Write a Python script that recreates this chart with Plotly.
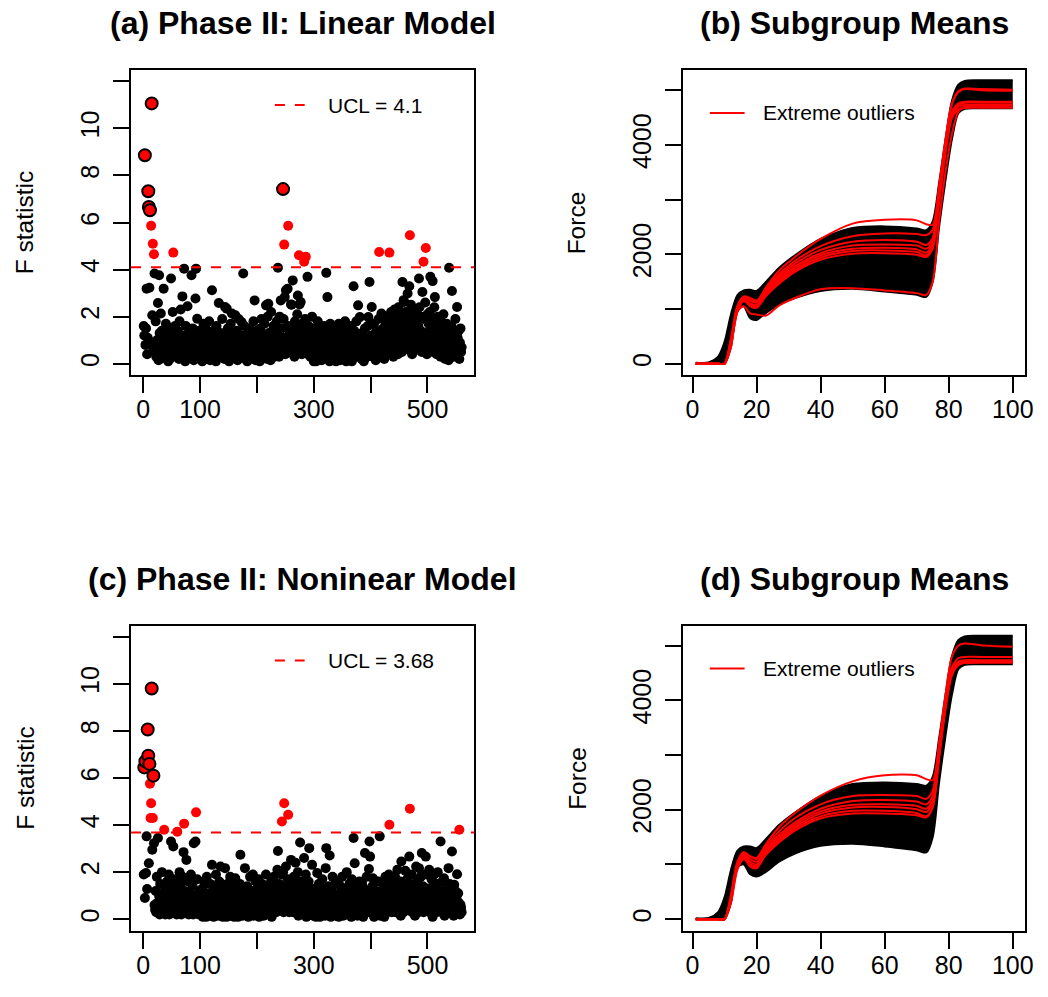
import plotly.graph_objects as go

W, H = 1048, 997

# ---------------------------------------------------------------- data
# Phase II F statistics, linear model, subgroups 1..560
f_linear = [
    1.6, 1.2, 8.86, 0.8, 1.5, 3.19, 0.4, 1.1, 7.33, 6.66, 3.23, 6.52, 0.9, 5.86, 11.06, 2.06, 5.1, 0.6, 4.65, 3.83,
    0.5, 1.8, 0.3, 1.0, 0.7, 2.58, 0.15, 3.76, 1.3, 0.2, 2.13, 0.9, 1.4, 0.5, 0.3, 3.19, 1.1, 0.6, 0.8, 1.7,
    0.4, 1.2, 0.9, 0.1, 1.5, 0.7, 0.2, 1.0, 3.62, 0.6, 1.3, 2.2, 4.72, 0.5, 0.8, 1.6, 0.3, 1.1, 0.4, 0.9,
    1.4, 0.6, 0.2, 1.8, 0.7, 2.3, 0.5, 1.0, 2.86, 0.3, 1.2, 4.04, 0.8, 0.1, 1.6, 0.6, 0.2, 2.44, 0.9, 1.3,
    0.5, 0.3, 1.1, 0.7, 3.76, 0.4, 1.5, 0.9, 0.15, 0.6, 1.2, 2.77, 4.04, 0.8, 1.91, 0.3, 1.0, 0.5, 1.4, 0.7,
    0.4, 1.3, 0.8, 0.1, 0.6, 1.7, 0.3, 1.0, 0.5, 1.5, 0.9, 0.2, 1.2, 0.7, 0.4, 1.8, 0.6, 0.15, 1.1, 0.8,
    3.12, 0.5, 0.9, 1.4, 0.3, 0.7, 1.0, 0.1, 1.6, 0.6, 0.4, 1.1, 2.58, 0.8, 0.3, 1.3, 0.5, 0.9, 1.9, 0.4,
    0.7, 1.2, 0.2, 2.41, 0.6, 1.0, 2.34, 0.4, 1.5, 0.8, 0.1, 1.1, 0.5, 1.7, 0.9, 2.13, 0.3, 1.3, 0.6, 0.4,
    1.0, 2.06, 0.5, 0.8, 1.4, 0.15, 0.7, 1.9, 0.4, 1.1, 0.6, 0.3, 1.77, 0.9, 1.2, 3.83, 0.5, 1.6, 0.8, 0.2,
    0.6, 1.0, 0.1, 1.3, 0.5, 0.8, 1.5, 0.3, 0.9, 0.4, 1.2, 0.7, 0.2, 1.8, 0.5, 2.69, 1.0, 0.15, 0.6, 1.4,
    0.8, 0.4, 1.1, 0.6, 0.1, 1.5, 0.9, 1.9, 0.3, 0.7, 1.2, 0.5, 1.7, 0.4, 1.0, 2.48, 0.6, 0.2, 2.0, 2.55,
    1.3, 0.5, 0.9, 0.15, 2.2, 0.7, 1.1, 0.4, 1.6, 0.8, 0.3, 1.4, 0.6, 1.0, 1.8, 0.5, 4.08, 0.9, 0.3, 2.0,
    1.2, 2.69, 0.6, 1.5, 0.8, 7.42, 1.9, 5.06, 2.83, 0.4, 3.12, 1.1, 0.7, 3.19, 5.86, 1.6, 0.5, 1.3, 0.9, 2.52,
    2.51, 1.0, 3.54, 0.6, 1.4, 0.3, 1.8, 0.8, 1.2, 0.5, 2.1, 2.9, 1.5, 4.61, 2.52, 0.7, 2.62, 1.1, 0.4, 1.7,
    0.9, 1.3, 4.33, 0.5, 1.9, 4.54, 0.8, 1.2, 3.69, 0.4, 1.6, 0.6, 1.0, 0.3, 1.4, 0.7, 2.0, 0.5, 1.1, 0.1,
    0.8, 0.4, 1.5, 0.1, 1.0, 0.6, 1.8, 0.3, 0.9, 1.2, 0.5, 0.7, 1.4, 0.15, 1.1, 0.6, 0.4, 1.6, 0.8, 0.3,
    1.0, 3.86, 0.5, 2.83, 0.3, 1.3, 0.7, 0.1, 1.7, 0.6, 0.9, 0.4, 1.2, 0.2, 1.5, 0.8, 0.5, 1.1, 0.1, 0.7,
    1.4, 0.6, 0.3, 1.7, 0.9, 0.15, 1.1, 0.5, 0.8, 1.5, 0.3, 0.7, 1.0, 0.4, 1.8, 0.6, 0.1, 1.2, 0.5, 0.9,
    0.3, 1.3, 0.7, 0.4, 1.6, 0.8, 0.1, 1.0, 0.5, 3.29, 1.4, 0.6, 0.9, 0.3, 1.8, 0.7, 1.2, 2.48, 0.4, 1.0,
    1.98, 0.5, 0.9, 0.2, 1.3, 0.6, 1.1, 0.1, 0.8, 1.5, 0.4, 0.7, 1.0, 0.3, 1.6, 1.98, 0.5, 3.47, 0.9, 0.4,
    1.2, 2.41, 0.6, 0.3, 1.0, 1.7, 0.5, 0.8, 0.15, 1.4, 0.7, 1.1, 0.4, 1.9, 4.75, 0.6, 0.3, 1.2, 2.13, 0.8,
    0.5, 1.5, 0.9, 0.2, 1.1, 1.8, 0.6, 1.3, 2.0, 0.4, 0.8, 1.6, 4.72, 1.0, 0.5, 2.2, 1.4, 0.7, 1.9, 0.3,
    1.2, 2.3, 0.6, 1.5, 2.0, 0.9, 1.7, 0.4, 2.4, 1.1, 1.8, 0.7, 2.1, 1.3, 0.5, 3.47, 1.6, 2.7, 2.62, 1.0,
    1.4, 2.2, 0.8, 1.9, 2.98, 1.2, 0.6, 3.29, 5.46, 1.7, 2.5, 1.0, 0.4, 2.0, 1.5, 0.9, 2.3, 1.3, 0.7, 1.8,
    2.27, 1.1, 0.6, 1.6, 3.62, 2.4, 0.9, 1.4, 2.0, 0.5, 3.05, 1.2, 4.33, 1.9, 0.8, 2.6, 4.92, 1.3, 0.4, 2.1,
    1.0, 1.7, 0.6, 2.2, 3.69, 1.4, 0.8, 1.9, 3.51, 0.5, 1.2, 2.4, 2.83, 0.9, 1.6, 0.4, 1.1, 2.0, 0.7, 1.3,
    0.6, 1.5, 0.3, 1.8, 0.9, 0.4, 1.2, 2.1, 0.6, 1.0, 0.2, 1.4, 0.8, 1.7, 0.5, 1.1, 0.15, 4.08, 0.9, 1.3,
    0.4, 1.6, 3.09, 0.7, 1.0, 0.3, 1.2, 0.5, 1.9, 0.8, 0.4, 2.41, 1.1, 0.6, 1.4, 0.2, 0.9, 1.5, 0.5, 0.7,
]
ucl_linear = 4.1
extreme_linear = [3, 9, 10, 12, 15, 246]

# Phase II F statistics, nonlinear model, subgroups 1..560
f_nonlinear = [
    1.9, 6.45, 0.9, 6.71, 1.96, 3.52, 1.28, 8.06, 6.95, 2.38, 6.6, 5.76, 4.3, 4.93, 9.8, 2.95, 4.3, 6.1, 3.23, 0.6,
    0.4, 1.2, 0.3, 1.8, 0.7, 3.45, 0.5, 1.0, 0.2, 1.5, 0.8, 0.3, 2.0, 0.6, 1.1, 0.4, 3.8, 0.9, 0.2, 1.3,
    0.5, 1.6, 0.3, 0.8, 1.9, 0.2, 1.1, 0.6, 3.3, 0.4, 1.4, 0.9, 3.09, 0.3, 0.7, 1.7, 0.5, 1.0, 0.2, 3.72,
    0.8, 1.3, 0.4, 2.0, 0.6, 1.5, 0.2, 0.9, 1.8, 0.5, 2.85, 4.06, 1.2, 0.3, 0.7, 2.52, 1.0, 0.4, 1.6, 0.2,
    0.6, 1.1, 0.3, 1.9, 0.8, 0.4, 1.4, 0.2, 3.23, 0.7, 1.0, 3.3, 4.54, 0.5, 1.7, 0.3, 0.9, 0.2, 1.2, 0.6,
    0.2, 0.9, 0.4, 1.3, 0.1, 0.7, 1.6, 0.3, 0.5, 1.0, 0.1, 1.8, 0.6, 0.3, 1.1, 0.4, 0.8, 1.5, 0.15, 0.6,
    2.31, 0.5, 1.0, 0.1, 1.4, 0.7, 0.3, 1.9, 0.9, 0.4, 1.2, 0.15, 0.6, 1.6, 0.3, 2.24, 0.8, 1.1, 0.4, 0.1,
    0.7, 1.3, 0.3, 2.17, 0.5, 0.9, 0.1, 1.5, 0.6, 0.3, 1.0, 0.4, 1.8, 0.15, 0.8, 1.2, 0.3, 0.6, 1.4, 0.1,
    0.5, 1.74, 0.9, 0.3, 1.2, 0.6, 0.1, 1.0, 0.4, 1.5, 2.74, 0.7, 0.3, 1.1, 0.15, 0.8, 1.3, 0.5, 2.17, 0.4,
    0.9, 0.3, 1.4, 0.6, 0.1, 1.0, 0.4, 1.8, 0.7, 0.3, 1.2, 0.5, 1.9, 0.15, 0.8, 1.1, 0.4, 1.6, 0.6, 0.3,
    1.3, 0.5, 1.7, 0.1, 0.8, 1.1, 0.4, 0.6, 1.5, 0.3, 0.9, 0.15, 1.2, 0.5, 0.7, 1.9, 0.3, 1.0, 0.4, 0.6,
    0.8, 1.4, 0.3, 0.6, 1.6, 0.1, 1.1, 0.5, 0.9, 1.8, 0.4, 0.7, 1.3, 0.3, 1.0, 2.1, 2.9, 0.6, 1.5, 0.4,
    1.2, 0.5, 1.9, 4.15, 0.8, 2.0, 0.3, 4.93, 1.0, 0.6, 2.24, 1.4, 0.4, 1.7, 4.44, 0.9, 0.3, 1.2, 0.7, 2.52,
    0.5, 1.5, 0.9, 0.3, 1.8, 0.6, 1.1, 2.4, 0.4, 1.3, 0.7, 2.0, 0.15, 1.0, 0.5, 3.26, 1.6, 0.8, 0.3, 1.2,
    0.6, 1.4, 2.6, 0.4, 0.9, 1.9, 0.1, 1.1, 0.7, 0.3, 1.6, 3.02, 0.5, 1.0, 0.3, 1.3, 2.31, 0.6, 0.15, 0.9,
    0.4, 1.2, 0.7, 0.1, 1.0, 1.96, 0.5, 0.3, 1.5, 0.8, 0.1, 1.1, 0.4, 0.6, 1.7, 0.3, 0.9, 0.5, 1.3, 0.15,
    2.17, 3.02, 0.6, 1.0, 0.3, 1.4, 0.5, 2.71, 0.8, 0.1, 1.2, 0.4, 1.8, 0.7, 0.3, 1.0, 0.5, 1.5, 0.15, 0.9,
    0.4, 1.6, 0.7, 0.1, 1.1, 0.5, 1.4, 0.3, 0.9, 1.8, 0.6, 0.15, 1.0, 0.4, 1.3, 0.7, 0.3, 2.0, 0.5, 1.2,
    0.8, 0.3, 1.5, 0.6, 1.0, 0.1, 1.7, 0.4, 0.9, 3.45, 0.5, 2.38, 1.2, 0.3, 0.7, 1.4, 0.15, 1.0, 0.6, 1.6,
    0.4, 1.1, 0.7, 0.3, 1.5, 0.9, 0.1, 1.3, 0.5, 2.81, 1.0, 0.4, 1.8, 0.6, 0.3, 1.2, 2.13, 3.3, 2.66, 0.5,
    0.9, 0.3, 1.4, 1.74, 0.6, 0.1, 1.0, 0.5, 1.2, 1.13, 0.4, 0.8, 0.3, 1.6, 0.7, 3.52, 0.15, 1.1, 0.5, 0.9,
    0.4, 1.3, 0.7, 0.1, 1.0, 1.8, 0.5, 0.9, 0.3, 1.5, 0.6, 1.9, 4.01, 0.4, 1.2, 0.8, 0.3, 1.6, 0.5, 1.0,
    1.4, 0.6, 1.8, 0.3, 1.1, 0.7, 2.1, 0.4, 1.3, 0.9, 0.5, 1.6, 0.15, 2.45, 1.0, 0.6, 1.5, 0.3, 1.2, 0.8,
    2.06, 1.3, 0.5, 1.7, 0.9, 1.2, 0.4, 2.66, 4.69, 1.5, 0.7, 1.9, 0.3, 1.1, 0.6, 1.4, 0.8, 0.15, 1.0, 2.24,
    0.5, 1.6, 0.9, 0.3, 2.17, 1.2, 0.6, 1.8, 0.4, 2.81, 1.0, 1.4, 0.3, 0.7, 1.9, 0.5, 2.66, 1.1, 0.8, 0.4,
    1.3, 0.6, 2.1, 0.3, 1.0, 0.5, 1.7, 0.8, 0.1, 1.4, 0.9, 1.9, 0.4, 1.1, 0.6, 0.3, 1.5, 2.0, 0.7, 0.5,
    1.2, 0.4, 3.3, 0.8, 0.3, 1.6, 0.6, 1.0, 1.74, 0.15, 0.9, 0.5, 1.3, 0.3, 0.7, 1.1, 2.17, 0.4, 1.5, 0.6,
    0.3, 1.0, 2.88, 0.5, 0.8, 0.15, 1.46, 0.6, 1.2, 0.3, 0.9, 1.91, 0.4, 1.1, 0.7, 3.8, 0.2, 0.61, 0.5, 0.3,
]
ucl_nonlinear = 3.68
extreme_nonlinear = [2, 4, 8, 9, 11, 15, 18]

# Subgroup mean force profiles, sampled at these positions
grid = [1, 5, 8, 10, 12, 14, 16, 18, 20, 23, 27, 32, 40, 50, 60, 70, 73, 75, 77, 79, 81, 83, 85, 90, 100]

# (b) envelope of the in-control subgroup means
band_upper_b = [15, 20, 130, 400, 900, 1250, 1340, 1350, 1330, 1500, 1750, 1980, 2280, 2480, 2510, 2470, 2440, 2600, 3300, 4100, 4800, 5100, 5170, 5180, 5180]
band_lower_b = [0, 0, 0, 0, 300, 1000, 1050, 830, 800, 930, 1080, 1200, 1330, 1370, 1320, 1260, 1220, 1500, 2500, 3350, 4100, 4580, 4660, 4670, 4670]
# (b) extreme outlier profiles
outliers_b = [
    [0, 0, 0, 0, 400, 1000, 1200, 1150, 1120, 1400, 1700, 1950, 2280, 2560, 2630, 2620, 2550, 2540, 3200, 4000, 4500, 4640, 4680, 4690, 4690],
    [0, 0, 0, 0, 450, 1050, 1220, 1180, 1150, 1380, 1640, 1880, 2150, 2330, 2380, 2370, 2350, 2450, 3250, 4100, 4750, 4960, 5020, 5000, 4990],
    [0, 0, 0, 0, 450, 1050, 1230, 1200, 1150, 1350, 1600, 1830, 2080, 2230, 2260, 2230, 2170, 2300, 3150, 4050, 4750, 4980, 5030, 5020, 5010],
    [0, 0, 0, 0, 400, 1000, 1200, 1150, 1120, 1320, 1560, 1780, 2020, 2160, 2180, 2160, 2100, 2250, 3100, 4000, 4600, 4760, 4790, 4790, 4790],
    [0, 0, 0, 0, 400, 1000, 1180, 1100, 1080, 1290, 1520, 1750, 1980, 2100, 2120, 2090, 2030, 2200, 3050, 3950, 4550, 4700, 4730, 4730, 4730],
    [0, 0, 0, 0, 350, 950, 1150, 1080, 1050, 1260, 1490, 1710, 1940, 2060, 2070, 2040, 1980, 2150, 3000, 3900, 4500, 4650, 4680, 4680, 4680],
    [0, 0, 0, 0, 350, 950, 1150, 1050, 1020, 1240, 1460, 1680, 1900, 2010, 2020, 1990, 1950, 2100, 2950, 3850, 4500, 4720, 4770, 4770, 4770],
    [0, 0, 0, 0, 300, 950, 1050, 920, 900, 880, 1060, 1200, 1360, 1380, 1340, 1290, 1256, 1500, 2600, 3500, 4200, 4600, 4700, 4720, 4720],
]

# (d) envelope of the in-control subgroup means
band_upper_d = [15, 20, 130, 400, 900, 1250, 1330, 1330, 1300, 1470, 1720, 1950, 2250, 2470, 2500, 2470, 2440, 2600, 3300, 4100, 4800, 5100, 5170, 5180, 5180]
band_lower_d = [0, 0, 0, 0, 300, 950, 1000, 820, 780, 870, 1050, 1200, 1340, 1380, 1330, 1260, 1220, 1500, 2500, 3350, 4100, 4570, 4650, 4660, 4660]
# (d) extreme outlier profiles
outliers_d = [
    [0, 0, 0, 0, 400, 1000, 1200, 1150, 1120, 1380, 1680, 1940, 2260, 2520, 2630, 2630, 2560, 2540, 3200, 4000, 4500, 4640, 4690, 4700, 4700],
    [0, 0, 0, 0, 450, 1050, 1230, 1150, 1100, 1330, 1600, 1850, 2100, 2250, 2270, 2250, 2200, 2350, 3200, 4100, 4800, 5000, 5040, 5010, 4980],
    [0, 0, 0, 0, 400, 1000, 1200, 1100, 1050, 1290, 1540, 1770, 2020, 2160, 2180, 2150, 2100, 2250, 3100, 4000, 4600, 4770, 4795, 4795, 4795],
    [0, 0, 0, 0, 400, 1000, 1180, 1050, 1000, 1260, 1500, 1730, 1970, 2090, 2100, 2070, 2020, 2180, 3050, 3950, 4550, 4710, 4735, 4735, 4735],
    [0, 0, 0, 0, 350, 950, 1150, 1000, 950, 1220, 1460, 1690, 1930, 2040, 2050, 2010, 1960, 2120, 3000, 3900, 4500, 4660, 4686, 4686, 4686],
    [0, 0, 0, 0, 350, 950, 1120, 960, 930, 1200, 1430, 1660, 1880, 1980, 1980, 1940, 1880, 2050, 2950, 3850, 4500, 4700, 4720, 4720, 4720],
    [0, 0, 0, 0, 300, 900, 1100, 1000, 980, 1180, 1400, 1620, 1840, 1930, 1930, 1900, 1860, 2050, 2950, 3850, 4450, 4650, 4690, 4700, 4700],
]

titles = ["(a) Phase II: Linear Model", "(b) Subgroup Means",
          "(c) Phase II: Noninear Model", "(d) Subgroup Means"]
f_ticks = [0, 2, 4, 6, 8, 10, 12]
f_tick_text = ["0", "2", "4", "6", "8", "10", ""]
idx_ticks = [0, 100, 200, 300, 400, 500]
idx_tick_text = ["0", "100", "", "300", "", "500"]
pos_ticks = [0, 20, 40, 60, 80, 100]
force_ticks = [0, 1000, 2000, 3000, 4000, 5000]
force_tick_text = ["0", "", "2000", "", "4000", ""]

# ---------------------------------------------------------------- layout helpers
FONT = "Liberation Sans, Arial, Helvetica, sans-serif"


def px(x):
    return x / W


def py(y):
    return 1 - y / H


# plot boxes in pixels: (left, right, top, bottom)
boxes = {
    "a": (132, 478, 70, 375),
    "b": (688.3, 1033.3, 70, 375),
    "c": (132, 478, 625.5, 930.5),
    "d": (688.3, 1033.3, 625.5, 930.5),
}
axis_ids = {"a": ("x", "y"), "b": ("x2", "y2"), "c": ("x3", "y3"), "d": ("x4", "y4")}

fig = go.Figure()


def add_scatter_panel(key, values, ucl, extreme):
    xa, ya = axis_ids[key]
    idx = list(range(1, len(values) + 1))
    bx, by, rx, ry, ex, ey = [], [], [], [], [], []
    for i, v in zip(idx, values):
        if i in extreme:
            ex.append(i); ey.append(v)
        elif v > ucl:
            rx.append(i); ry.append(v)
        else:
            bx.append(i); by.append(v)
    fig.add_trace(go.Scatter(x=bx, y=by, mode="markers", xaxis=xa, yaxis=ya,
                             marker=dict(color="black", size=10, line=dict(width=0)),
                             showlegend=False, hoverinfo="skip"))
    fig.add_trace(go.Scatter(x=rx, y=ry, mode="markers", xaxis=xa, yaxis=ya,
                             marker=dict(color="red", size=10, line=dict(width=0)),
                             showlegend=False, hoverinfo="skip"))
    fig.add_trace(go.Scatter(x=ex, y=ey, mode="markers", xaxis=xa, yaxis=ya,
                             marker=dict(color="red", size=12, line=dict(color="black", width=2)),
                             showlegend=False, hoverinfo="skip"))
    fig.add_shape(type="line", xref=f"{xa} domain", yref=ya, x0=0, x1=1, y0=ucl, y1=ucl,
                  line=dict(color="red", width=2, dash="10px,10px"))
    # legend entry
    left, right, top, bottom = boxes[key]
    ly = top + 35
    fig.add_shape(type="line", xref="paper", yref="paper",
                  x0=px(left + 145), x1=px(left + 175), y0=py(ly), y1=py(ly),
                  line=dict(color="red", width=2, dash="10px,10px"))
    fig.add_annotation(xref="paper", yref="paper", x=px(left + 197), y=py(ly),
                       xanchor="left", yanchor="middle", showarrow=False,
                       text=f"UCL = {ucl:g}", font=dict(family=FONT, size=21, color="black"))


def add_profile_panel(key, upper, lower, outliers):
    xa, ya = axis_ids[key]
    line_style = dict(color="black", width=2, shape="spline", smoothing=0.8)
    fig.add_trace(go.Scatter(x=grid, y=lower, mode="lines", xaxis=xa, yaxis=ya,
                             line=line_style, showlegend=False, hoverinfo="skip"))
    fig.add_trace(go.Scatter(x=grid, y=upper, mode="lines", xaxis=xa, yaxis=ya,
                             line=line_style, fill="tonexty", fillcolor="black",
                             showlegend=False, hoverinfo="skip"))
    for prof in outliers:
        fig.add_trace(go.Scatter(x=grid, y=prof, mode="lines", xaxis=xa, yaxis=ya,
                                 line=dict(color="red", width=2, shape="spline", smoothing=0.8),
                                 showlegend=False, hoverinfo="skip"))
    left, right, top, bottom = boxes[key]
    ly = top + 43
    fig.add_shape(type="line", xref="paper", yref="paper",
                  x0=px(left + 27), x1=px(left + 62), y0=py(ly), y1=py(ly),
                  line=dict(color="red", width=2))
    fig.add_annotation(xref="paper", yref="paper", x=px(left + 79), y=py(ly),
                       xanchor="left", yanchor="middle", showarrow=False,
                       text="Extreme outliers", font=dict(family=FONT, size=21, color="black"))


add_scatter_panel("a", f_linear, ucl_linear, extreme_linear)
add_profile_panel("b", band_upper_b, band_lower_b, outliers_b)
add_scatter_panel("c", f_nonlinear, ucl_nonlinear, extreme_nonlinear)
add_profile_panel("d", band_upper_d, band_lower_d, outliers_d)

axis_common = dict(showline=True, linecolor="black", linewidth=2, mirror=True,
                   ticks="outside", ticklen=16, tickwidth=2, tickcolor="black",
                   showgrid=False, zeroline=False,
                   tickfont=dict(family=FONT, size=25, color="black"))

layout_axes = {}
for n, key in enumerate(["a", "b", "c", "d"], start=1):
    left, right, top, bottom = boxes[key]
    xname = "xaxis" if n == 1 else f"xaxis{n}"
    yname = "yaxis" if n == 1 else f"yaxis{n}"
    anchor_x = "x" if n == 1 else f"x{n}"
    anchor_y = "y" if n == 1 else f"y{n}"
    if key in ("a", "c"):
        xr, xt, xtt = [-21.4, 582.4], idx_ticks, idx_tick_text
        yr, yt, ytt = [-0.48, 12.48], f_ticks, f_tick_text
        ytitle = "F statistic"
    else:
        xr, xt, xtt = [-2.96, 103.96], pos_ticks, [str(t) for t in pos_ticks]
        yr, yt, ytt = [-207, 5369], force_ticks, force_tick_text
        ytitle = "Force"
    layout_axes[xname] = dict(axis_common, domain=[px(left), px(right)], range=xr,
                              tickvals=xt, ticktext=xtt, anchor=anchor_y, ticklabelstandoff=-5)
    layout_axes[yname] = dict(axis_common, domain=[py(bottom), py(top)], range=yr,
                              tickvals=yt, ticktext=ytt, anchor=anchor_x, tickangle=-90,
                              ticklabelstandoff=4)
    # panel title
    fig.add_annotation(xref="paper", yref="paper", x=px((left + right) / 2), y=py(top - 47),
                       xanchor="center", yanchor="middle", showarrow=False,
                       text=f"<b>{titles[n - 1]}</b>",
                       font=dict(family=FONT, size=32, color="black"))
    # y-axis title
    fig.add_annotation(xref="paper", yref="paper", x=px(left - 107), y=py((top + bottom) / 2),
                       xanchor="center", yanchor="middle", showarrow=False, textangle=-90,
                       text=ytitle, font=dict(family=FONT, size=24.5, color="black"))

fig.update_layout(width=W, height=H, margin=dict(l=0, r=0, t=0, b=0),
                  paper_bgcolor="white", plot_bgcolor="white", **layout_axes)

fig.write_html("out.html")
